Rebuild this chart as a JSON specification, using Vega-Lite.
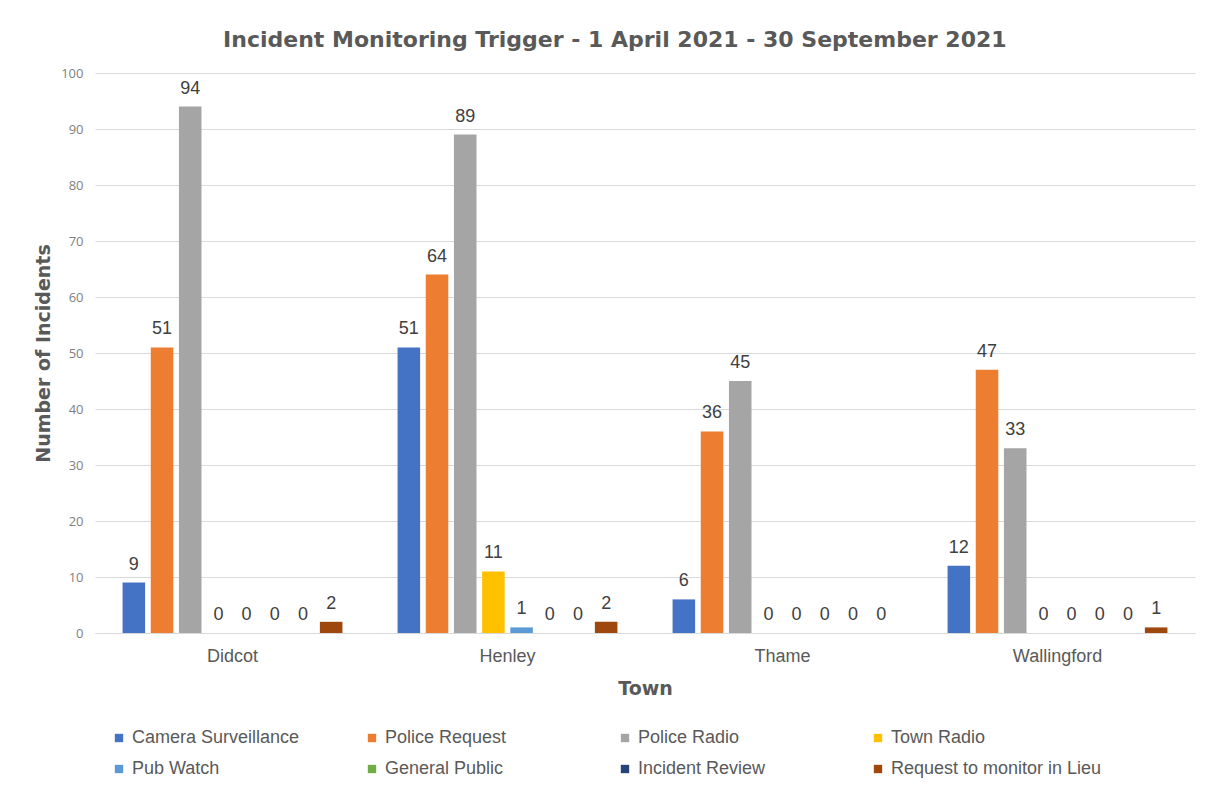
{
  "$schema": "https://vega.github.io/schema/vega-lite/v6.json",
  "autosize": {"type": "none"},
  "width": 1100,
  "height": 560,
  "padding": {"left": 95, "top": 73, "right": 13, "bottom": 152},
  "background": "white",
  "title": {
    "text": "Incident Monitoring Trigger - 1 April 2021 - 30 September 2021",
    "font": "DejaVu Sans",
    "fontSize": 22,
    "fontWeight": "bold",
    "color": "#595959",
    "anchor": "middle",
    "frame": "bounds",
    "offset": 15
  },
  "data": {
    "values": [
      {"town": "Didcot", "trigger": "Camera Surveillance", "n": 9},
      {"town": "Didcot", "trigger": "Police Request", "n": 51},
      {"town": "Didcot", "trigger": "Police Radio", "n": 94},
      {"town": "Didcot", "trigger": "Town Radio", "n": 0},
      {"town": "Didcot", "trigger": "Pub Watch", "n": 0},
      {"town": "Didcot", "trigger": "General Public", "n": 0},
      {"town": "Didcot", "trigger": "Incident Review", "n": 0},
      {"town": "Didcot", "trigger": "Request to monitor in Lieu", "n": 2},
      {"town": "Henley", "trigger": "Camera Surveillance", "n": 51},
      {"town": "Henley", "trigger": "Police Request", "n": 64},
      {"town": "Henley", "trigger": "Police Radio", "n": 89},
      {"town": "Henley", "trigger": "Town Radio", "n": 11},
      {"town": "Henley", "trigger": "Pub Watch", "n": 1},
      {"town": "Henley", "trigger": "General Public", "n": 0},
      {"town": "Henley", "trigger": "Incident Review", "n": 0},
      {"town": "Henley", "trigger": "Request to monitor in Lieu", "n": 2},
      {"town": "Thame", "trigger": "Camera Surveillance", "n": 6},
      {"town": "Thame", "trigger": "Police Request", "n": 36},
      {"town": "Thame", "trigger": "Police Radio", "n": 45},
      {"town": "Thame", "trigger": "Town Radio", "n": 0},
      {"town": "Thame", "trigger": "Pub Watch", "n": 0},
      {"town": "Thame", "trigger": "General Public", "n": 0},
      {"town": "Thame", "trigger": "Incident Review", "n": 0},
      {"town": "Thame", "trigger": "Request to monitor in Lieu", "n": 0},
      {"town": "Wallingford", "trigger": "Camera Surveillance", "n": 12},
      {"town": "Wallingford", "trigger": "Police Request", "n": 47},
      {"town": "Wallingford", "trigger": "Police Radio", "n": 33},
      {"town": "Wallingford", "trigger": "Town Radio", "n": 0},
      {"town": "Wallingford", "trigger": "Pub Watch", "n": 0},
      {"town": "Wallingford", "trigger": "General Public", "n": 0},
      {"town": "Wallingford", "trigger": "Incident Review", "n": 0},
      {"town": "Wallingford", "trigger": "Request to monitor in Lieu", "n": 1}
    ]
  },
  "encoding": {
    "x": {
      "field": "town",
      "type": "nominal",
      "sort": ["Didcot", "Henley", "Thame", "Wallingford"],
      "scale": {"paddingInner": 0.18, "paddingOuter": 0.09},
      "axis": {
        "title": "Town",
        "titleFont": "DejaVu Sans",
        "titleFontSize": 19,
        "titleFontWeight": "bold",
        "titleColor": "#595959",
        "titlePadding": 14,
        "labelFont": "Liberation Sans",
        "labelFontSize": 18,
        "labelColor": "#595959",
        "labelAngle": 0,
        "labelPadding": 14,
        "ticks": false,
        "domainColor": "#d9d9d9",
        "domainWidth": 1
      }
    },
    "xOffset": {
      "field": "trigger",
      "type": "nominal",
      "sort": ["Camera Surveillance", "Police Request", "Police Radio", "Town Radio", "Pub Watch", "General Public", "Incident Review", "Request to monitor in Lieu"],
      "scale": {"paddingInner": 0.2, "paddingOuter": 0.1}
    },
    "y": {
      "field": "n",
      "type": "quantitative",
      "scale": {"domain": [0, 100], "nice": false},
      "axis": {
        "title": "Number of Incidents",
        "titleFont": "DejaVu Sans",
        "titleFontSize": 19,
        "titleFontWeight": "bold",
        "titleColor": "#595959",
        "titlePadding": 7,
        "values": [0, 10, 20, 30, 40, 50, 60, 70, 80, 90, 100],
        "labelFont": "Open Sans",
        "labelFontSize": 13,
        "labelColor": "#7f7f7f",
        "labelPadding": 12,
        "ticks": false,
        "domain": false,
        "gridColor": "#d9d9d9",
        "gridWidth": 1
      }
    }
  },
  "layer": [
    {
      "mark": {"type": "bar"},
      "encoding": {
        "color": {
          "field": "trigger",
          "type": "nominal",
          "sort": ["Camera Surveillance", "Police Request", "Police Radio", "Town Radio", "Pub Watch", "General Public", "Incident Review", "Request to monitor in Lieu"],
          "scale": {
            "domain": ["Camera Surveillance", "Police Request", "Police Radio", "Town Radio", "Pub Watch", "General Public", "Incident Review", "Request to monitor in Lieu"],
            "range": ["#4472C4", "#ED7D31", "#A5A5A5", "#FFC000", "#5B9BD5", "#70AD47", "#264478", "#9E480E"]
          },
          "legend": {
            "title": null,
            "orient": "none",
            "legendX": 15,
            "legendY": 656,
            "direction": "horizontal",
            "columns": 4,
            "gridAlign": "all",
            "columnPadding": 20,
            "rowPadding": 13,
            "symbolType": "square",
            "symbolSize": 70,
            "symbolStrokeWidth": 0,
            "labelFont": "Liberation Sans",
            "labelFontSize": 18,
            "labelColor": "#595959",
            "labelOffset": 4,
            "labelLimit": 400
          }
        }
      }
    },
    {
      "mark": {"type": "text", "font": "Liberation Sans", "fontSize": 18, "color": "#404040", "baseline": "alphabetic", "dy": -13},
      "encoding": {
        "text": {"field": "n", "type": "quantitative"}
      }
    }
  ],
  "config": {
    "view": {"stroke": null}
  }
}
